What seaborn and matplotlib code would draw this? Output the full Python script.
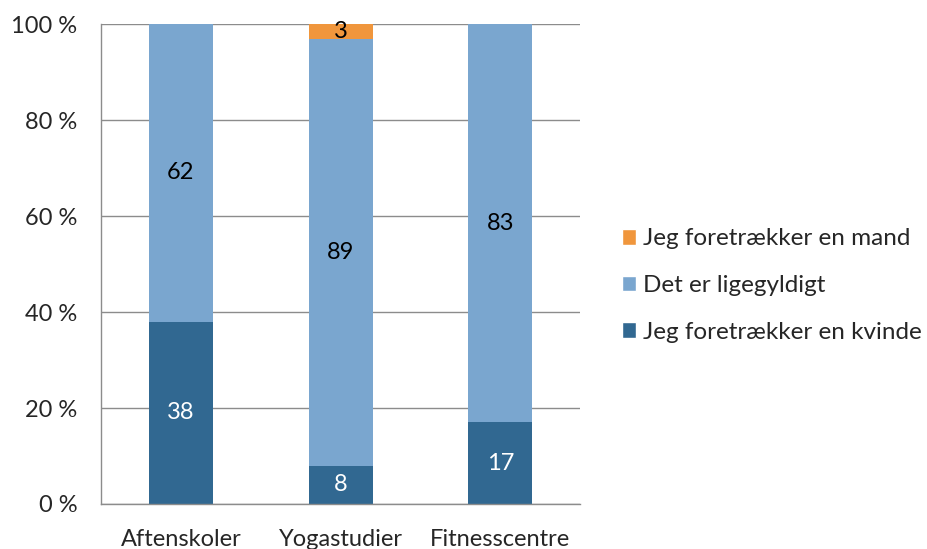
import numpy as np
import pandas as pd
import seaborn as sns
import matplotlib.pyplot as plt
from matplotlib.patches import Patch

# Data (percent)
categories = ['Aftenskoler', 'Yogastudier', 'Fitnesscentre']
kvinde = [38, 8, 17]
ligegyldigt = [62, 89, 83]
mand = [0, 3, 0]

series_names = ['Jeg foretrækker en kvinde', 'Det er ligegyldigt', 'Jeg foretrækker en mand']
colors = ['#316891', '#7AA6CF', '#F0963C']

sns.set_theme(style='white')
plt.rcParams['font.family'] = ['Lato', 'DejaVu Sans']
FS = 17

df = pd.DataFrame({'cat': categories, 'kvinde': kvinde,
                   'ligegyldigt': ligegyldigt, 'mand': mand})
df['cum1'] = df['kvinde']
df['cum2'] = df['kvinde'] + df['ligegyldigt']
df['cum3'] = df['cum2'] + df['mand']

fig = plt.figure(figsize=(9.27, 5.49), dpi=100)
ax = fig.add_axes([0.109, 0.082, 0.517, 0.874])

ax.yaxis.grid(True, color='#8c8c8c', linewidth=1)
ax.set_axisbelow(True)

# stacked bars via overlay of cumulative totals
for col, c in zip(['cum3', 'cum2', 'cum1'], colors[::-1]):
    sns.barplot(data=df, x='cat', y=col, color=c, width=0.4, ax=ax,
                saturation=1, linewidth=0, zorder=2)

# segment labels
segs = [kvinde, ligegyldigt, mand]
text_colors = ['white', 'black', 'black']
for i in range(len(categories)):
    base = 0
    for s, tc in zip(segs, text_colors):
        v = s[i]
        if v > 0:
            ax.text(i, base + v / 2, str(v), ha='center', va='center',
                    color=tc, fontsize=FS, zorder=3)
        base += v

ax.set_xlim(-0.5, 2.5)
ax.set_ylim(0, 100)
ax.set_yticks(np.arange(0, 101, 20))
ax.set_yticklabels([f'{t} %' for t in range(0, 101, 20)], fontsize=FS)
ax.set_xticks([0, 1, 2])
ax.set_xticklabels(categories, fontsize=FS)
ax.set_xticks([-0.5, 0.5, 1.5, 2.5], minor=True)
ax.tick_params(axis='x', which='major', length=0, pad=18)
ax.tick_params(axis='x', which='minor', length=6, width=1, color='#8c8c8c', direction='out')
ax.tick_params(axis='y', length=8, width=1, color='#8c8c8c', direction='out', pad=9)
ax.set_xlabel('')
ax.set_ylabel('')

for side in ['top', 'right']:
    ax.spines[side].set_visible(False)
for side in ['left', 'bottom']:
    ax.spines[side].set_color('#8c8c8c')
    ax.spines[side].set_linewidth(1)

handles = [Patch(facecolor=colors[k], label=series_names[k]) for k in [2, 1, 0]]
fig.legend(handles=handles, loc='center left', bbox_to_anchor=(0.66, 0.48),
           frameon=False, fontsize=17.5, handlelength=0.6, handleheight=0.6,
           handletextpad=0.3, labelspacing=1.05, borderaxespad=0)

fig.savefig('out.png', dpi=100)
